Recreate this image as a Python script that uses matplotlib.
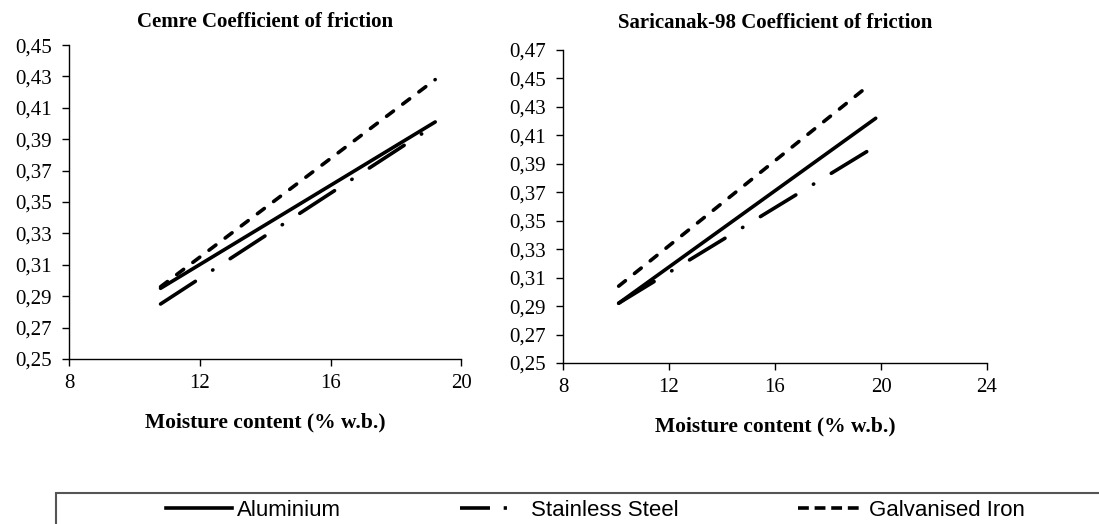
import matplotlib.pyplot as plt
from matplotlib.patches import Rectangle
from matplotlib.lines import Line2D

# Fitted friction lines (start / end points)
cemre_x = [10.8, 19.2]
cemre_al = [0.295, 0.401]
cemre_ss = [0.285, 0.399]
cemre_gi = [0.296, 0.428]

sari_x = [10.1, 19.8]
sari_al = [0.292, 0.422]
sari_ss_x = [10.1, 19.5]
sari_ss = [0.292, 0.399]
sari_gi_x = [10.1, 19.6]
sari_gi = [0.304, 0.446]

cemre_xticks = [8, 12, 16, 20]
sari_xticks = [8, 12, 16, 20, 24]
cemre_yticks = [0.25, 0.27, 0.29, 0.31, 0.33, 0.35, 0.37, 0.39, 0.41, 0.43, 0.45]
sari_yticks = [0.25, 0.27, 0.29, 0.31, 0.33, 0.35, 0.37, 0.39, 0.41, 0.43, 0.45, 0.47]
labels = ['Aluminium', 'Stainless Steel', 'Galvanised Iron']

serif = ['Liberation Serif', 'DejaVu Serif']
lw = 2.6
ss_dash = (0, (11.5, 5.7, 0.1, 5.7))
gi_dash = (0, (2.4, 3.2))

fig = plt.figure(figsize=(10.99, 5.24), dpi=100)
ax1 = fig.add_axes([0.0628, 0.315, 0.357, 0.599])
ax2 = fig.add_axes([0.5123, 0.3073, 0.3858, 0.5973])


def style(ax, title, xticks, yticks, tpad):
    for s in ['top', 'right']:
        ax.spines[s].set_visible(False)
    for s in ['left', 'bottom']:
        ax.spines[s].set_linewidth(1.0)
    ax.set_xticks(xticks)
    ax.set_yticks(yticks)
    ax.set_xlim(xticks[0], xticks[-1])
    ax.set_ylim(yticks[0], yticks[-1])
    ax.set_yticklabels([f'{v:.2f}'.replace('.', ',') for v in yticks], family=serif, fontsize=15)
    ax.set_xticklabels([str(v) for v in xticks], family=serif, fontsize=15)
    ax.tick_params(direction='out', length=5, width=1)
    ax.tick_params(axis='y', pad=7.5)
    ax.tick_params(axis='x', pad=6)
    ax.set_title(title, family=serif, fontweight='bold', fontsize=15, pad=tpad)
    ax.set_xlabel('Moisture content (% w.b.)', family=serif, fontweight='bold', fontsize=15.5, labelpad=14)


kw = dict(color='black', lw=lw, solid_capstyle='round', dash_capstyle='round')
ax1.plot(cemre_x, cemre_al, **kw)
ax1.plot(cemre_x, cemre_ss, linestyle=ss_dash, **kw)
ax1.plot(cemre_x, cemre_gi, linestyle=gi_dash, **kw)
style(ax1, 'Cemre Coefficient of friction', cemre_xticks, cemre_yticks, 13)

ax2.plot(sari_x, sari_al, **kw)
ax2.plot(sari_ss_x, sari_ss, linestyle=ss_dash, **kw)
ax2.plot(sari_gi_x, sari_gi, linestyle=gi_dash, **kw)
style(ax2, 'Saricanak-98 Coefficient of friction', sari_xticks, sari_yticks, 16)

# legend box running off the bottom of the image
fig.patches.append(Rectangle((0.051, -0.2), 1.0, 0.259, transform=fig.transFigure,
                             fill=False, edgecolor='#555555', lw=1.5))
handles = [
    Line2D([], [], color='black', lw=lw),
    Line2D([], [], color='black', lw=lw, linestyle=(0, (8.3, 3.8, 0.9, 6))),
    Line2D([], [], color='black', lw=lw, linestyle=(0, (3.0, 1.6))),
]
fig.legend(handles, labels, loc='center left', bbox_to_anchor=(0.151, 0.026), ncol=3, frameon=False,
           handlelength=2.97, handletextpad=0.23, columnspacing=5.35, borderpad=0, borderaxespad=0,
           prop={'family': ['Liberation Sans', 'DejaVu Sans'], 'size': 16})

fig.savefig('out.png', dpi=100)
